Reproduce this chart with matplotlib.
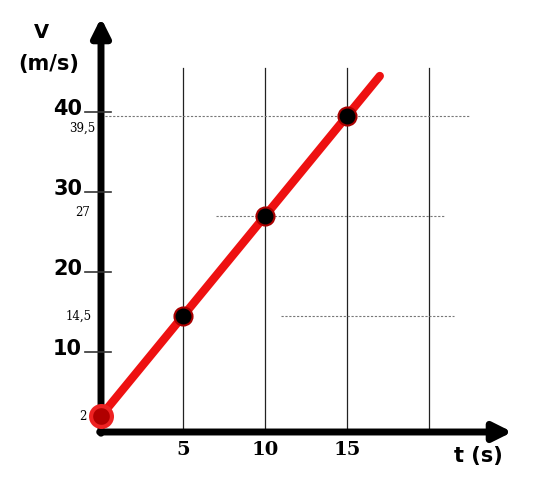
import matplotlib.pyplot as plt

t_pts = [0, 5, 10, 15]
v_pts = [2, 14.5, 27, 39.5]
t_line_end = 17
v_line_end = 44.5
grid_t = [5, 10, 15, 20]
y_major = [10, 20, 30, 40]
x_labels = ['5', '10', '15']
small_labels = ['2', '14,5', '27', '39,5']
# dotted guides: (value, t start, t end)
guides = [(39.5, 0, 22.5), (27, 7, 21), (14.5, 11, 21.5)]

fig = plt.figure(figsize=(5.39, 4.80), dpi=100)
# axes placed so data origin sits on the drawn axes
ax = fig.add_axes([101 / 539, 48 / 480, (515 - 101) / 539, (465 - 48) / 480])
ax.set_xlim(0, 414 / 16.4)
ax.set_ylim(0, 417 / 8.0)
ax.axis('off')

# vertical grid lines
for g in grid_t:
    ax.plot([g, g], [0, 45.5], color='#222222', lw=0.9, zorder=1)

# dotted guides
for val, a, b in guides:
    ax.plot([a, b], [val, val], color='#777777', lw=0.8, ls=(0, (2, 1.5)), zorder=1)

# axes arrows
ax.annotate('', xy=(414 / 16.4, 0), xytext=(-0.25, 0),
            arrowprops=dict(arrowstyle='-|>,head_length=1.1,head_width=0.55',
                            color='black', lw=5), annotation_clip=False)
ax.annotate('', xy=(0, 417 / 8.0), xytext=(0, -0.5),
            arrowprops=dict(arrowstyle='-|>,head_length=1.1,head_width=0.55',
                            color='black', lw=5), annotation_clip=False)

# y ticks and labels
for y in y_major:
    ax.plot([-0.98, 0.6], [y, y], color='#333333', lw=1.2, clip_on=False, zorder=3)
    ax.text(-1.15, y + 0.4, str(y), ha='right', va='center', fontsize=15,
            fontweight='bold', family='DejaVu Sans')

small_x = [-0.85, -0.55, -0.65, -0.35]
small_y = [2, 14.5, 27.5, 38.0]
for lab, sx, sy in zip(small_labels, small_x, small_y):
    ax.text(sx, sy, lab, ha='right', va='center', fontsize=8.5,
            family='DejaVu Serif')

for g, lab in zip(grid_t, x_labels):
    ax.text(g, -1.1, lab, ha='center', va='top', fontsize=14,
            fontweight='bold', family='DejaVu Serif')

ax.text(23.0, -1.8, 't (s)', ha='center', va='top', fontsize=15,
        fontweight='bold', family='DejaVu Sans')
ax.text(-3.6, 50, 'V', ha='center', va='center', fontsize=14,
        fontweight='bold', family='DejaVu Sans')
ax.text(-3.2, 46, '(m/s)', ha='center', va='center', fontsize=15,
        fontweight='bold', family='DejaVu Sans')

# red line and points
ax.plot(t_pts + [t_line_end], v_pts + [v_line_end], color='#ee1111', lw=6,
        solid_capstyle='round', zorder=4, clip_on=False)
ax.plot(t_pts[1:], v_pts[1:], 'o', ms=13, mfc='black', mec='#aa0000', mew=1.5,
        zorder=5)
ax.plot(t_pts[:1], v_pts[:1], 'o', ms=15, mfc='#b00000', mec='#ee2222', mew=3,
        zorder=5, clip_on=False)

fig.savefig('out.png', dpi=100)
